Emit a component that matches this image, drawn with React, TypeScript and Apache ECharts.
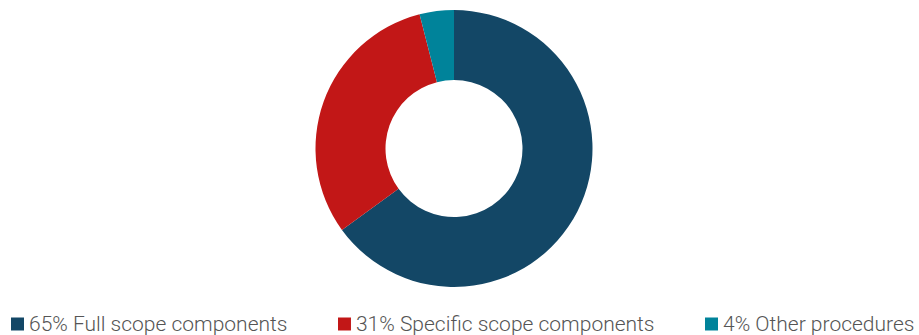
import React, { useEffect, useRef } from "react";
import * as echarts from "echarts";

const categories = ["65% Full scope components", "31% Specific scope components", "4% Other procedures"];
const values = [65, 31, 4];
const colors = ["#134766", "#C21717", "#00839A"];

export default function App() {
  const ref = useRef<HTMLDivElement>(null);
  useEffect(() => {
    const chart = echarts.init(ref.current!, null, { renderer: "svg" });
    chart.setOption({
      animation: false,
      color: colors,
      legend: {
        left: 11,
        top: 313,
        width: 950,
        padding: 0,
        itemWidth: 13,
        itemHeight: 13,
        itemGap: 50.5,
        icon: "rect",
        textStyle: { fontFamily: "Roboto", fontSize: 21, fontWeight: 300, color: "#555555", lineHeight: 22 },
        data: categories,
      },
      series: [
        {
          type: "pie",
          center: [454, 148.5],
          radius: [68.5, 138.5],
          startAngle: 90,
          clockwise: true,
          label: { show: false },
          labelLine: { show: false },
          emphasis: { disabled: true },
          itemStyle: { borderWidth: 0 },
          data: categories.map((c, i) => ({ name: c, value: values[i] })),
        },
      ],
    });
    return () => chart.dispose();
  }, []);
  return <div ref={ref} style={{ width: 919, height: 335, position: "absolute", left: 0, top: 0 }} />;
}
